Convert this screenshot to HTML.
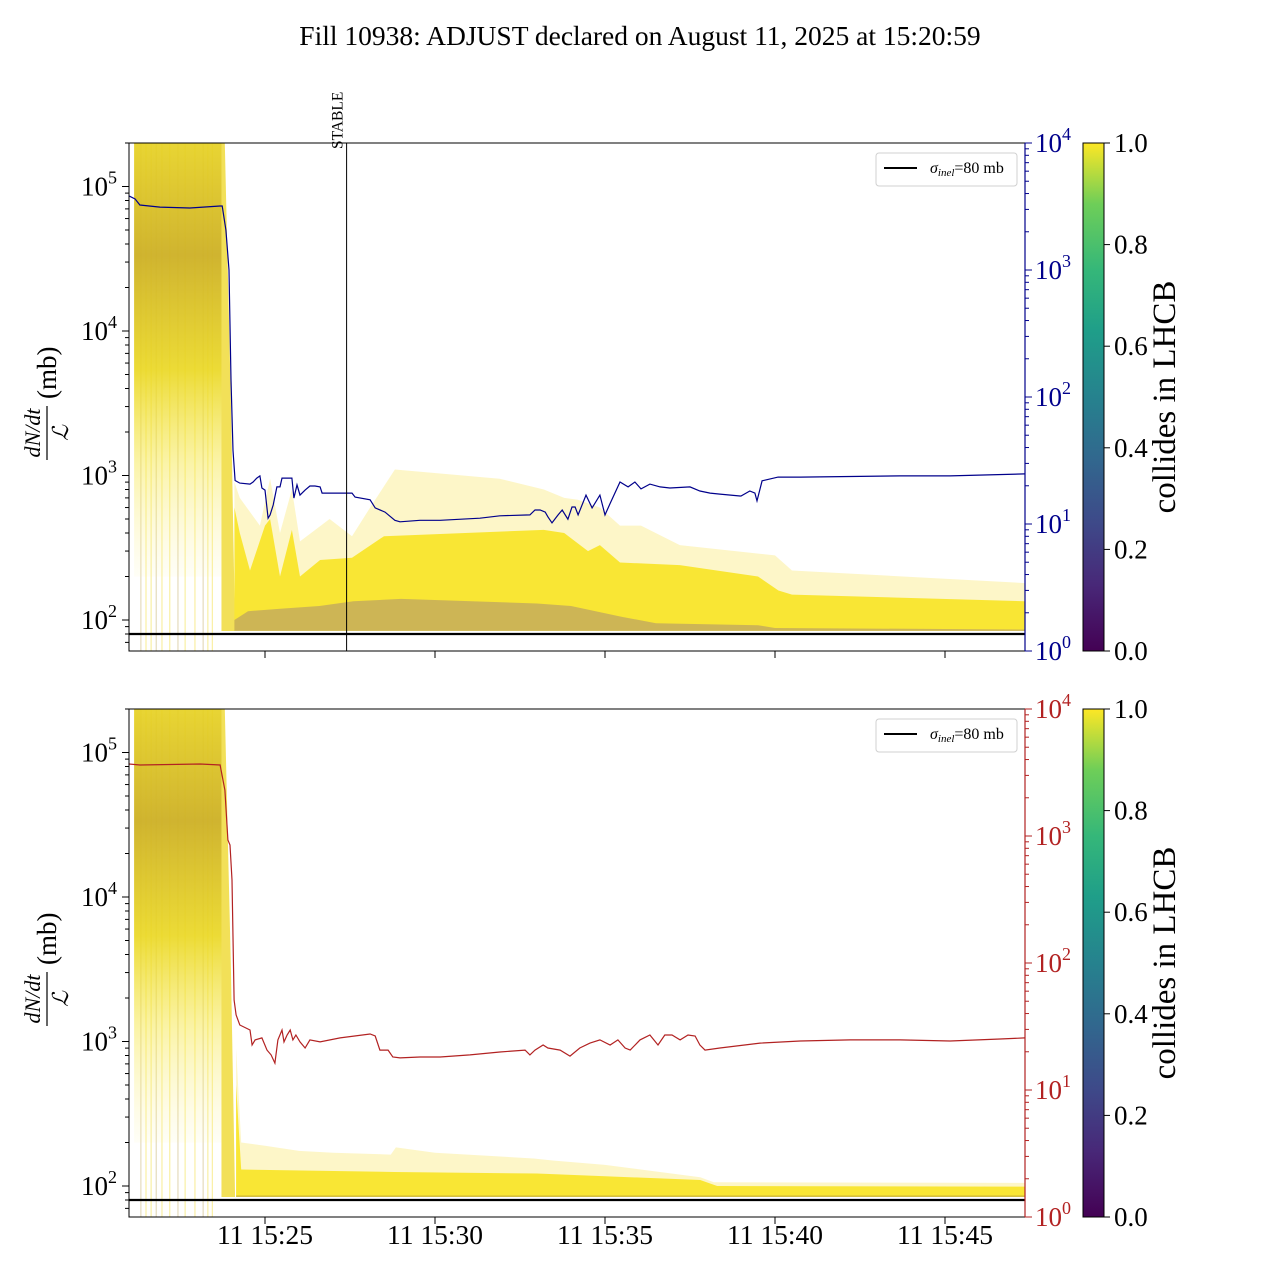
<!DOCTYPE html>
<html><head><meta charset="utf-8"><style>
html,body{margin:0;padding:0;background:#fff;}
svg{display:block;font-family:"Liberation Serif",serif;}
</style></head><body>
<svg id="chart" width="1280" height="1280" viewBox="0 0 1280 1280" xmlns="http://www.w3.org/2000/svg">
<defs>
<linearGradient id="viridis" x1="0" y1="1" x2="0" y2="0">
<stop offset="0" stop-color="#440154"/><stop offset="0.13" stop-color="#482878"/><stop offset="0.25" stop-color="#3e4989"/><stop offset="0.38" stop-color="#31688e"/><stop offset="0.5" stop-color="#26828e"/><stop offset="0.63" stop-color="#1f9e89"/><stop offset="0.75" stop-color="#35b779"/><stop offset="0.88" stop-color="#6ece58"/><stop offset="1" stop-color="#fde725"/>
</linearGradient>
<linearGradient id="early" x1="0" y1="0" x2="0" y2="1">
<stop offset="0" stop-color="#ecd81e" stop-opacity="0.9"/><stop offset="0.3" stop-color="#cdb025" stop-opacity="0.95"/><stop offset="0.55" stop-color="#ead720" stop-opacity="0.9"/><stop offset="0.75" stop-color="#f5e53a" stop-opacity="0.45"/><stop offset="1" stop-color="#fbf090" stop-opacity="0.08"/>
</linearGradient>
</defs>
<text x="640" y="45" text-anchor="middle" font-size="27.5">Fill 10938: ADJUST declared on August 11, 2025 at 15:20:59</text>
</svg>
<script>
// ---- data (minutes after 15:21:00) ----
const xTickTimes = [4, 9, 14, 19, 24];
const xTickLabels = ["11 15:25", "11 15:30", "11 15:35", "11 15:40", "11 15:45"];
const stableTime = 6.4;
const spikeTimes = [0.35, 0.5, 0.65, 0.8, 0.97, 1.2, 1.44, 1.65, 1.94, 2.18, 2.32, 2.45];

const blueT = [0,0.18,0.32,0.91,1.79,2.68,2.74,2.85,2.94,3.0,3.06,3.12,3.26,3.56,3.65,3.76,3.85,3.91,4.0,4.09,4.15,4.24,4.35,4.44,4.5,4.79,4.85,4.94,5.03,5.18,5.32,5.47,5.62,5.68,6.06,6.56,6.65,7.09,7.24,7.53,7.82,7.97,8.56,9.15,10.32,10.91,11.79,11.94,12.09,12.24,12.32,12.44,12.62,12.74,12.91,13.03,13.12,13.21,13.44,13.62,13.85,14.0,14.15,14.44,14.68,14.88,15.06,15.32,15.62,15.91,16.5,16.79,17.09,17.38,17.97,18.0,18.26,18.41,18.47,18.62,19.09,19.74,22.68,24.15,26.35];
const blueV = [3830,3620,3250,3130,3080,3190,3190,2070,1000,136,38,22,21,20.6,21.4,23,23.9,19.2,18.5,11.1,11.8,14.1,19.6,19.6,23,23,16,20.3,16.9,18.5,19.9,19.9,19.6,17.5,17.5,17.5,16.3,15.5,13.4,12.4,10.7,10.4,10.7,10.7,11.1,11.6,11.8,12.9,12.9,12.4,11.4,10.2,11.8,12.9,10.9,13.6,13.6,11.8,16.9,13.4,16.9,11.8,14.5,21.4,19.6,21.4,18.9,20.6,19.6,19.2,19.6,18.2,17.5,17.2,16.6,16.6,18.2,17.5,15.2,21.9,23.4,23.4,23.9,23.9,24.8];

const redT = [0,0.32,2.09,2.68,2.82,2.91,2.97,3.03,3.09,3.15,3.26,3.56,3.62,3.71,3.91,4.06,4.18,4.29,4.38,4.5,4.56,4.65,4.74,4.82,4.91,5.03,5.18,5.32,5.62,6.21,7.09,7.24,7.38,7.62,7.76,7.97,8.56,9.15,10.03,10.91,11.65,11.79,11.94,12.18,12.32,12.68,12.97,13.26,13.56,13.85,14.15,14.38,14.59,14.74,15.03,15.32,15.56,15.76,15.97,16.21,16.44,16.65,16.79,16.94,17.38,18.56,19.74,21.21,22.68,24.15,25.62,26.35];
const redV = [3690,3620,3690,3620,2300,930,850,450,51,39,32.5,29.7,22.6,24.8,25.7,20.6,18.9,16.3,24.8,29.7,23.9,27.1,29.7,24.8,27.1,23.9,21.4,24.8,23.9,25.7,27.6,26.6,20.6,20.6,18.2,17.9,18.2,18.2,18.9,19.9,20.6,18.9,20.6,22.6,21.4,20.6,18.5,21.4,23.4,24.8,22.6,24.8,21.4,20.6,24.8,27.1,22.6,27.1,27.1,24.8,27.1,26.6,22.6,20.6,21.4,23.4,24.3,24.8,24.8,24.3,25.2,25.7];

// top panel rate envelopes (mb)
const topOuterT = [3.1,3.26,3.85,4.15,4.44,4.79,5.03,5.9,6.56,7.09,7.82,10.9,12.2,12.8,13.2,13.85,14.44,15.06,16.2,19.0,19.5,26.35];
const topOuterV = [900,700,450,950,400,800,350,500,380,600,1100,950,800,700,680,600,450,450,330,280,220,180];
const topCoreT = [3.1,3.26,3.56,4.0,4.15,4.44,4.79,5.03,5.62,6.56,7.5,12.2,12.8,13.5,13.85,14.44,16.2,18.5,19.1,19.5,26.35];
const topCoreV = [600,400,220,450,500,200,420,200,260,270,380,420,400,300,330,250,240,200,160,150,135];
const topPurpleT = [3.1,3.5,4.5,5.6,6.6,8,12,13,14.5,15.5,18.5,19,26.35];
const topPurpleV = [100,115,120,125,135,140,130,125,105,95,92,88,86];
// bottom panel rate envelopes
const botOuterT = [3.15,3.3,4.0,5.0,6.0,7.7,7.85,9.0,11.9,12.5,14.0,16.8,17.2,26.35];
const botOuterV = [900,200,190,175,170,165,185,170,155,150,140,115,106,105];
const botCoreT = [3.15,3.3,7.8,12,16.8,17.3,26.35];
const botCoreV = [500,130,125,122,110,100,99];
const floorV = 84;
const earlyStart = 0.15, earlyEnd = 2.72, earlyTop = 3e5, earlyDense = 2000;
const sigmaInel = 80;
const cbTicks = [0.0, 0.2, 0.4, 0.6, 0.8, 1.0];

// ---- scales ----
const X0 = 129, X1 = 1025, PXMIN = 34;
const xs = t => X0 + t * PXMIN;
const panels = [
  {name:'top', top:143, bot:651, base:620, line:[blueT, blueV], color:'#00008b', outer:[topOuterT, topOuterV], core:[topCoreT, topCoreV], purple:[topPurpleT, topPurpleV], stable:true},
  {name:'bottom', top:709, bot:1217, base:1186, line:[redT, redV], color:'#b22222', outer:[botOuterT, botOuterV], core:[botCoreT, botCoreV], purple:null, stable:false}
];
const DEC = 144.5, RDEC = 127;
const svg = document.getElementById('chart');
const NS = 'http://www.w3.org/2000/svg';
function mk(tag, attrs, parent) {
  const e = document.createElementNS(NS, tag);
  for (const k in attrs) e.setAttribute(k, attrs[k]);
  (parent || svg).appendChild(e);
  return e;
}
function envPath(T, V, yl, lowV) {
  let d = '';
  T.forEach((t, i) => { d += (i ? 'L' : 'M') + xs(t).toFixed(1) + ',' + yl(V[i]).toFixed(1); });
  for (let i = T.length - 1; i >= 0; i--) d += 'L' + xs(T[i]).toFixed(1) + ',' + yl(lowV).toFixed(1);
  return d + 'Z';
}

panels.forEach(p => {
  const yl = v => p.base - (Math.log10(v) - 2) * DEC;
  const yr = v => p.bot - Math.log10(v) * RDEC;
  const g = mk('g', {});
  
  
  const clipId = 'clip-' + p.name;
  const cp = mk('clipPath', {id: clipId}, g);
  mk('rect', {x: X0, y: p.top, width: X1 - X0, height: p.bot - p.top}, cp);
  const plot = mk('g', {'clip-path': 'url(#' + clipId + ')'}, g);

  spikeTimes.forEach((t, i) => {
    const l = mk('line', {x1: xs(t), x2: xs(t), y1: p.top, y2: p.bot, stroke: i % 3 ? '#f3e04a' : '#c9b87a', 'stroke-width': 1, 'stroke-opacity': 0.6}, plot);
    
    
  });
  const eb = mk('rect', {x: xs(earlyStart), y: yl(earlyTop), width: xs(earlyEnd) - xs(earlyStart), height: yl(earlyDense * 0.1) - yl(earlyTop), fill: 'url(#early)'}, plot);
  
  
  const dr = mk('path', {d: 'M' + xs(earlyEnd) + ',' + yl(earlyTop) + 'L' + xs(2.8) + ',' + yl(earlyTop) + 'L' + xs(3.0) + ',' + yl(3000) + 'L' + xs(3.12) + ',' + yl(floorV) + 'L' + xs(earlyEnd) + ',' + yl(floorV) + 'Z', fill: '#eed520', 'fill-opacity': 0.75}, plot);
  
  

  const ob = mk('path', {d: envPath(p.outer[0], p.outer[1], yl, floorV), fill: '#fbef9a', 'fill-opacity': 0.55}, plot);
  
  
  const cb = mk('path', {d: envPath(p.core[0], p.core[1], yl, floorV), fill: '#f8e423', 'fill-opacity': 0.9}, plot);
  
  
  if (p.purple) {
    const pb = mk('path', {d: envPath(p.purple[0], p.purple[1], yl, floorV), fill: '#7a5a96', 'fill-opacity': 0.35}, plot);
    
    
  } else {
    const pb = mk('rect', {x: xs(3.15), y: yl(86), width: X1 - xs(3.15), height: yl(floorV) - yl(86), fill: '#8a6a3a', 'fill-opacity': 0.35}, plot);
    
    
  }
  const sl = mk('line', {x1: X0, x2: X1, y1: yl(sigmaInel), y2: yl(sigmaInel), stroke: '#000', 'stroke-width': 2.2}, plot);
  
  
  let d = '';
  p.line[0].forEach((t, i) => { d += (i ? 'L' : 'M') + xs(t).toFixed(1) + ',' + yr(p.line[1][i]).toFixed(1); });
  const ml = mk('path', {d: d, fill: 'none', stroke: p.color, 'stroke-width': 1.2}, plot);
  
  

  if (p.stable) {
    const st = mk('line', {x1: xs(stableTime), x2: xs(stableTime), y1: p.top, y2: p.bot, stroke: '#000', 'stroke-width': 1}, g);
    
    
    const stt = mk('text', {x: 0, y: 0, 'font-size': 15.5, transform: 'translate(' + (xs(stableTime) - 4) + ',149) rotate(-90)'}, g);
    stt.textContent = 'STABLE';
    
    
  }

  const fr = mk('rect', {x: X0, y: p.top, width: X1 - X0, height: p.bot - p.top, fill: 'none', stroke: '#000', 'stroke-width': 1}, g);
  
  
  mk('line', {x1: X1, x2: X1, y1: p.top, y2: p.bot, stroke: p.color, 'stroke-width': 1.2}, g);

  const vmin = Math.pow(10, 2 - (p.bot - p.base) / DEC), vmax = Math.pow(10, 2 + (p.base - p.top) / DEC);
  for (let e = 1; e <= 5; e++) for (let m = 1; m <= 9; m++) {
    const v = m * Math.pow(10, e);
    if (v < vmin || v > vmax) continue;
    const y = yl(v);
    mk('line', {x1: X0 - (m === 1 ? 7 : 4), x2: X0, y1: y, y2: y, stroke: '#000', 'stroke-width': 1}, g);
    if (m === 1 && e >= 2) {
      const tx = mk('text', {x: X0 - 12, y: y + 9, 'text-anchor': 'end', 'font-size': 27}, g);
      tx.innerHTML = '10<tspan dy="-12" font-size="18">' + e + '</tspan>';
      
      
    }
  }
  for (let e = 0; e <= 4; e++) for (let m = 1; m <= 9; m++) {
    const v = m * Math.pow(10, e);
    if (v > 10000.1) continue;
    const y = yr(v);
    mk('line', {x1: X1, x2: X1 + (m === 1 ? 7 : 4), y1: y, y2: y, stroke: p.color, 'stroke-width': 1}, g);
    if (m === 1) {
      const tx = mk('text', {x: X1 + 10, y: y + 9, 'font-size': 27, fill: p.color}, g);
      tx.innerHTML = '10<tspan dy="-12" font-size="18">' + e + '</tspan>';
      
      
    }
  }
  xTickTimes.forEach((t, i) => {
    mk('line', {x1: xs(t), x2: xs(t), y1: p.bot, y2: p.bot + 7, stroke: '#000', 'stroke-width': 1}, g);
    if (p.name === 'bottom') {
      const tx = mk('text', {x: xs(t), y: p.bot + 27, 'text-anchor': 'middle', 'font-size': 27.5}, g);
      tx.textContent = xTickLabels[i];
      
      
    }
  });

  const cy = (p.top + p.bot) / 2;
  const yg = mk('g', {transform: 'translate(47,' + cy + ') rotate(-90)'}, g);
  
  
  const num = mk('text', {x: -36, y: -7, 'text-anchor': 'middle', 'font-size': 22, 'font-style': 'italic'}, yg);
  num.textContent = 'dN/dt';
  mk('line', {x1: -63, x2: -9, y1: 0, y2: 0, stroke: '#000', 'stroke-width': 1.2}, yg);
  const den = mk('text', {x: -36, y: 21, 'text-anchor': 'middle', 'font-size': 22, 'font-style': 'italic'}, yg);
  den.textContent = 'ℒ';
  const mb = mk('text', {x: -2, y: 9, 'font-size': 27}, yg);
  mb.textContent = '(mb)';

  const lg = mk('g', {}, g);
  
  
  mk('rect', {x: 876, y: p.top + 10, width: 141, height: 33, rx: 3, fill: '#fff', 'fill-opacity': 0.8, stroke: '#d0d0d0'}, lg);
  mk('line', {x1: 884, x2: 917, y1: p.top + 25, y2: p.top + 25, stroke: '#000', 'stroke-width': 2}, lg);
  const lt = mk('text', {x: 930, y: p.top + 30, 'font-size': 16}, lg);
  lt.innerHTML = '<tspan font-style="italic">σ</tspan><tspan font-style="italic" font-size="11" dy="3">inel</tspan><tspan dy="-3">=80 mb</tspan>';

  const cbg = mk('g', {}, g);
  
  
  mk('rect', {x: 1083, y: p.top, width: 21, height: p.bot - p.top, fill: 'url(#viridis)', stroke: '#000', 'stroke-width': 1}, cbg);
  cbTicks.forEach(v => {
    const y = p.bot - v * (p.bot - p.top);
    mk('line', {x1: 1104, x2: 1110, y1: y, y2: y, stroke: '#000'}, cbg);
    const tx = mk('text', {x: 1114, y: y + 9, 'font-size': 27}, cbg);
    tx.textContent = v.toFixed(1);
    
    
  });
  const cl = mk('text', {x: 0, y: 0, 'text-anchor': 'middle', 'font-size': 33, transform: 'translate(1175,' + cy + ') rotate(-90)'}, cbg);
  cl.textContent = 'collides in LHCB';
  
  
});
</script>
</body></html>
